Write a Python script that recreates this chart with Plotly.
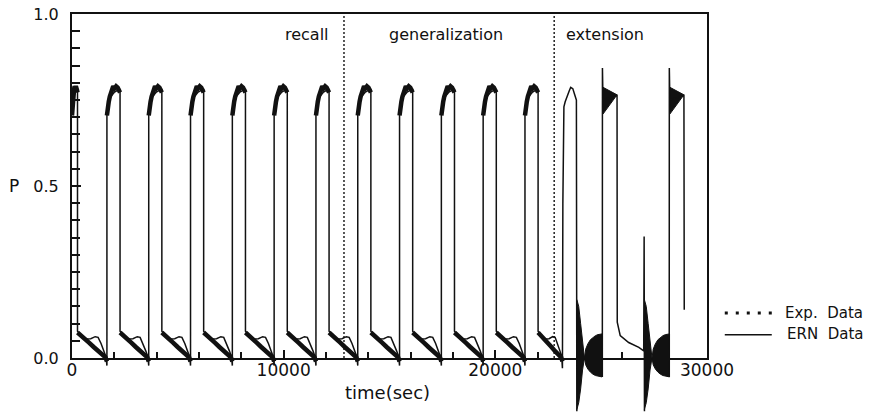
import plotly.graph_objects as go

# ---------------------------------------------------------------- data ----
# high-phase windows (s) of the periodic runs (training, recall, generalization)
pulse_on = [0, 1650, 3625, 5600, 7575, 9550, 11525, 13500, 15475, 17450, 19425, 21400]
pulse_off = [260, 2270, 4245, 6220, 8195, 10170, 12145, 14120, 16095, 18070, 20045, 22020]
extension_start = 23170

# profile of one high phase: fraction of the phase -> P
high_frac = [0.0, 0.1, 0.3, 0.55, 0.8, 1.0]
ern_high = [0.72, 0.74, 0.76, 0.772, 0.778, 0.78]
exp_high_frac = [0.0, 0.06, 0.14, 0.22, 0.3, 0.38, 0.48, 0.58, 0.7, 0.82, 0.92, 1.0]
exp_high = [0.705, 0.73, 0.745, 0.76, 0.77, 0.782, 0.79, 0.784, 0.79, 0.786, 0.778, 0.772]

# profile of one low phase
low_frac = [0.0, 0.15, 0.3, 0.45, 0.6, 0.7, 0.8, 0.9, 0.97, 1.0]
ern_low = [0.078, 0.062, 0.055, 0.056, 0.062, 0.06, 0.042, 0.02, 0.003, -0.022]
exp_low_frac = [0.0, 0.12, 0.25, 0.4, 0.55, 0.7, 0.85, 0.95, 1.0]
exp_low = [0.074, 0.064, 0.052, 0.044, 0.032, 0.02, 0.01, 0.002, -0.01]

# extension run, ERN trace (None splits the pieces around the ringing)
ext_t = [23170, 23190, 23215, 23240, 23300, 23400, 23480, 23560, 23660, 23750, 23830, 23850, None,
         25055, 25060, 25085, 25750, 25760, 25900, 26300, 26780, 27010, 27030, 27045, None,
         28215, 28220, 28245, 28910, 28925]
ext_p = [-0.03, 0.45, 0.70, 0.73, 0.745, 0.765, 0.775, 0.787, 0.783, 0.765, 0.75, -0.155, None,
         -0.055, 0.843, 0.75, 0.763, 0.104, 0.065, 0.045, 0.031, 0.021, 0.353, -0.155, None,
         -0.055, 0.843, 0.75, 0.763, 0.14]

# damped ringing after each switch-off spike: seconds after spike -> envelope
ring_start = [23850, 27040]
ring_dt = [0, 90, 180, 270, 360, 420, 520, 640, 760, 880, 1000, 1100, 1190]
ring_upper = [0.17, 0.15, 0.10, 0.04, 0.0, 0.026, 0.041, 0.053, 0.060, 0.065, 0.068, 0.069, 0.07]
ring_lower = [-0.15, -0.13, -0.09, -0.035, 0.0, -0.020, -0.032, -0.041, -0.047, -0.051, -0.053, -0.054, -0.055]

# fast oscillation inside the extension pulses
burst_on = [25060, 28220]
burst_off = [25750, 28910]
burst_top = [0.787, 0.765]
burst_bottom = 0.709

# phase boundaries and labels
phase_bounds = [12850, 22780]
phase_names = ["recall", "generalization", "extension"]
phase_label_t = [9990, 14900, 23240]

x_ticks = [0, 10000, 20000, 30000]
y_ticks = [0.0, 0.5, 1.0]

# ------------------------------------------------------------- build -----
ern_t, ern_p, exp_t, exp_p = [], [], [], []
for i, (on, off) in enumerate(zip(pulse_on, pulse_off)):
    nxt = pulse_on[i + 1] if i + 1 < len(pulse_on) else extension_start
    w_hi, w_lo = off - on, nxt - off
    ern_t += [on + f * w_hi for f in high_frac] + [off + f * w_lo for f in low_frac]
    ern_p += ern_high + ern_low
    exp_t += [on + f * w_hi for f in exp_high_frac] + [None]
    exp_p += exp_high + [None]
    exp_t += [off + f * w_lo for f in exp_low_frac] + [None]
    exp_p += exp_low + [None]
ern_t += ext_t
ern_p += ext_p

INK = "#111111"
FONT = "DejaVu Sans"

fig = go.Figure()

# ringing envelopes, filled
for s in ring_start:
    xs = [s + d for d in ring_dt] + [s + d for d in reversed(ring_dt)]
    ys = ring_upper + list(reversed(ring_lower))
    fig.add_trace(go.Scatter(x=xs, y=ys, yaxis="y2", mode="lines", fill="toself",
                             fillcolor=INK, line=dict(color=INK, width=1),
                             hoverinfo="skip", showlegend=False))
# oscillation bursts inside the extension pulses
for on, off in zip(burst_on, burst_off):
    fig.add_trace(go.Scatter(x=[on + 25, off, on + 25], y=[burst_top[0], burst_top[1], burst_bottom],
                             yaxis="y2", mode="lines", fill="toself", fillcolor=INK,
                             line=dict(color=INK, width=1), hoverinfo="skip", showlegend=False))

fig.add_trace(go.Scatter(x=exp_t, y=exp_p, yaxis="y2", mode="lines", name="Exp. Data",
                         line=dict(color=INK, width=4.5), showlegend=False))
fig.add_trace(go.Scatter(x=ern_t, y=ern_p, yaxis="y2", mode="lines", name="ERN Data",
                         line=dict(color=INK, width=1.5), showlegend=False))

# dotted phase separators
sep_x, sep_y = [], []
for b in phase_bounds:
    sep_x += [b, b, None]
    sep_y += [0, 1, None]
fig.add_trace(go.Scatter(x=sep_x, y=sep_y, mode="lines", line=dict(color=INK, width=1.4, dash="2px,2px"),
                         hoverinfo="skip", showlegend=False))

for name, t in zip(phase_names, phase_label_t):
    fig.add_annotation(x=t, y=0.94, xref="x", yref="y", text=name, showarrow=False,
                       xanchor="left", yanchor="middle", font=dict(family=FONT, size=16, color=INK))

fig.add_annotation(x=-0.0913, y=0.57, xref="paper", yref="paper", text="P", showarrow=False,
                   xanchor="center", yanchor="middle", font=dict(family=FONT, size=17, color=INK))
fig.add_annotation(x=0.497, y=0.055, xref="paper", yref="paper", text="time(sec)", showarrow=False,
                   xanchor="center", yanchor="middle", font=dict(family=FONT, size=18, color=INK))

# legend, drawn at the right of the frame
fig.add_shape(type="line", xref="paper", yref="paper", x0=1.028, x1=1.104, y0=0.2525, y1=0.2525,
              line=dict(color=INK, width=3, dash="3px,8px"))
fig.add_shape(type="line", xref="paper", yref="paper", x0=1.028, x1=1.102, y0=0.198, y1=0.198,
              line=dict(color=INK, width=1.5))
fig.add_annotation(x=1.1197, y=0.2525, xref="paper", yref="paper", text="Exp.\u00a0 Data",
                   showarrow=False, xanchor="left", yanchor="middle",
                   font=dict(family=FONT, size=15, color=INK))
fig.add_annotation(x=1.1228, y=0.2, xref="paper", yref="paper", text="ERN\u00a0 Data",
                   showarrow=False, xanchor="left", yanchor="middle",
                   font=dict(family=FONT, size=15, color=INK))

tick_font = dict(family=FONT, size=17, color=INK)
fig.update_layout(
    width=872, height=414,
    margin=dict(l=72, r=165, t=14, b=0),
    paper_bgcolor="white", plot_bgcolor="rgba(0,0,0,0)",
    showlegend=False,
    xaxis=dict(range=[0, 30000], domain=[0, 1], anchor="y", showgrid=False, zeroline=False,
               showline=True, linecolor=INK, linewidth=2, mirror=True,
               tickmode="array", tickvals=x_ticks, ticktext=[str(v) for v in x_ticks],
               ticks="inside", ticklen=8, tickwidth=1.5, tickcolor=INK, tickfont=tick_font,
               ticklabelstandoff=-4,
               minor=dict(dtick=2000, tick0=0, ticks="inside", ticklen=6, tickwidth=1.5, tickcolor=INK),
               automargin=False),
    yaxis=dict(range=[0, 1], domain=[0.14, 1], anchor="x", showgrid=False, zeroline=False,
               showline=True, linecolor=INK, linewidth=2, mirror=True,
               tickmode="array", tickvals=y_ticks, ticktext=["%.1f" % v for v in y_ticks],
               ticks="inside", ticklen=9, tickwidth=1.5, tickcolor=INK,
               tickfont=dict(family=FONT, size=16, color=INK), ticklabelstandoff=8,
               minor=dict(dtick=0.05, tick0=0, ticks="inside", ticklen=8, tickwidth=1.5, tickcolor=INK),
               automargin=False),
    yaxis2=dict(range=[-0.1628, 1.0], domain=[0, 1], anchor="x", visible=False,
                showgrid=False, zeroline=False, automargin=False),
)

fig.write_html("out.html")
